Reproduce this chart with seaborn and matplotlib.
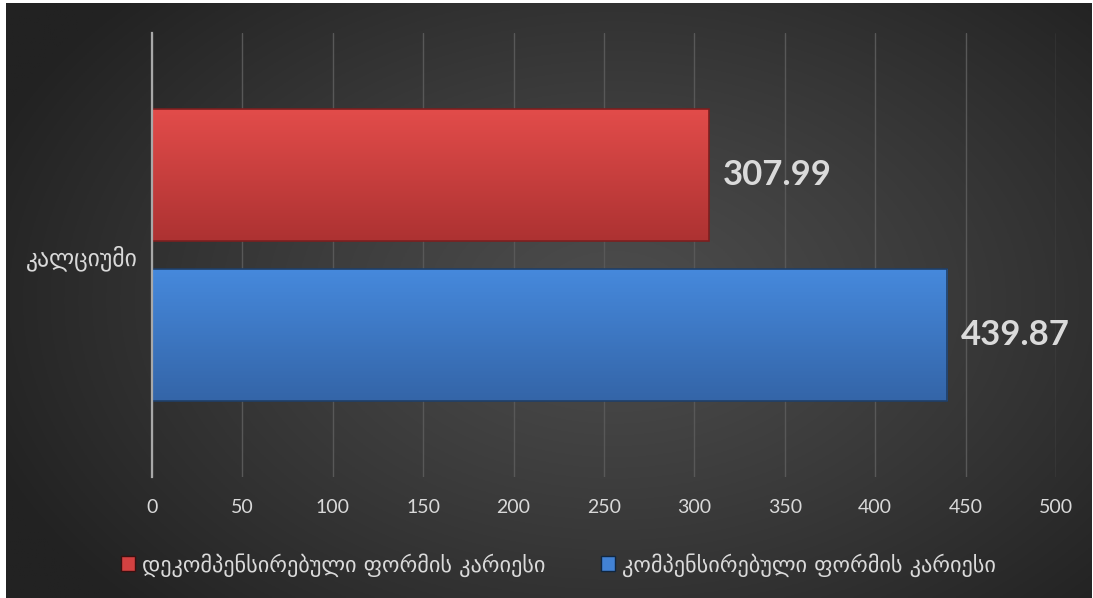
"""Horizontal bar chart: calcium by caries form (dark gradient style)."""

import numpy as np
import pandas as pd
import matplotlib
matplotlib.use("Agg")
import matplotlib.pyplot as plt
import seaborn as sns

# ------------------------------------------------------------------
# Data
# ------------------------------------------------------------------
nutrients = ["კალციუმი"]
groups = ["დეკომპენსირებული ფორმის კარიესი", "კომპენსირებული ფორმის კარიესი"]
values = [307.99, 439.87]
x_ticks = [0, 50, 100, 150, 200, 250, 300, 350, 400, 450, 500]

bar_colors = ["#d44141", "#4282d4"]
bar_grads = [("#e24c4a", "#ad3232"), ("#4689dc", "#3465a8")]
bar_edges = ["#7c1f1f", "#1f3f68"]

df = pd.DataFrame({
    "nutrient": nutrients * len(groups),
    "group": groups,
    "value": values,
})

sns.set_theme(style="dark")
plt.rcParams["font.family"] = ["Lato", "DejaVu Sans"]

W, H = 1093, 598
fig = plt.figure(figsize=(W / 100, H / 100), dpi=100)
fig.patch.set_facecolor("white")

# radial background
bg = fig.add_axes([6 / W, 0, (W - 7) / W, (H - 3) / H])
yy, xx = np.mgrid[0:1:300j, 0:1:550j]
r = np.sqrt(((xx - 0.56) / 0.62) ** 2 + ((yy - 0.5) / 0.75) ** 2)
shade = (76 - 42 * np.clip(r, 0, 1) ** 1.2) / 255.0
bg.imshow(np.dstack([shade, shade, shade]), aspect="auto", extent=(0, 1, 0, 1))
bg.set_axis_off()

ax = fig.add_axes([152 / W, 1 - 477 / H, 904 / W, 444 / H])
ax.set_facecolor("none")

sns.barplot(data=df, x="value", y="nutrient", hue="group", orient="h",
            palette=bar_colors, saturation=1, width=0.72, gap=0.175,
            ax=ax, zorder=3)

# gradient fill clipped to each bar
xlim, ylim = (0, 500), ax.get_ylim()
for patch, (c_top, c_bot), ec in zip(ax.patches, bar_grads, bar_edges):
    bb = patch.get_bbox()
    top = np.array(matplotlib.colors.to_rgb(c_top))
    bot = np.array(matplotlib.colors.to_rgb(c_bot))
    t = np.linspace(0, 1, 64)[:, None]
    grad = (top * (1 - t) + bot * t)[:, None, :]
    im = ax.imshow(grad, aspect="auto", origin="lower",
                   extent=(bb.x0, bb.x1, bb.y0, bb.y1), zorder=3.5)
    im.set_clip_path(patch)
    patch.set_edgecolor(ec)
    patch.set_linewidth(1.2)
    patch.set_zorder(4)
    patch.set_facecolor("none")
ax.set_xlim(*xlim)
ax.set_ylim(*ylim)

for cont in ax.containers:
    ax.bar_label(cont, fmt="%.2f", padding=10, fontsize=25,
                 fontweight="bold", color="#dadada")

handles, labels = ax.get_legend_handles_labels()
ax.get_legend().remove()
for h, c in zip(handles, bar_colors):
    h.set_edgecolor("#3a1010" if c == bar_colors[0] else "#10263f")
fig.legend(handles, labels, loc="center", bbox_to_anchor=(0.511, 1 - 565 / H),
           ncol=2, frameon=False, labelcolor="#dadada",
           handlelength=0.65, handleheight=0.65, handletextpad=0.3,
           columnspacing=2.5, prop={"family": ["DejaVu Sans"], "size": 16})

ax.set_xticks(x_ticks)
ax.xaxis.grid(True, color="#585858", linewidth=1, zorder=0)
ax.yaxis.grid(False)
for side in ["top", "right", "bottom"]:
    ax.spines[side].set_visible(False)
ax.spines["left"].set_color("#a8a8a8")
ax.spines["left"].set_linewidth(1.6)
ax.spines["left"].set_zorder(5)
ax.tick_params(axis="x", colors="#d9d9d9", labelsize=14, length=0, pad=16)
ax.tick_params(axis="y", colors="#d9d9d9", labelsize=17, length=0, pad=10)
for lbl in ax.get_yticklabels():
    lbl.set_family(["DejaVu Sans"])
ax.set_xlabel("")
ax.set_ylabel("")

fig.savefig("out.png", dpi=100)
